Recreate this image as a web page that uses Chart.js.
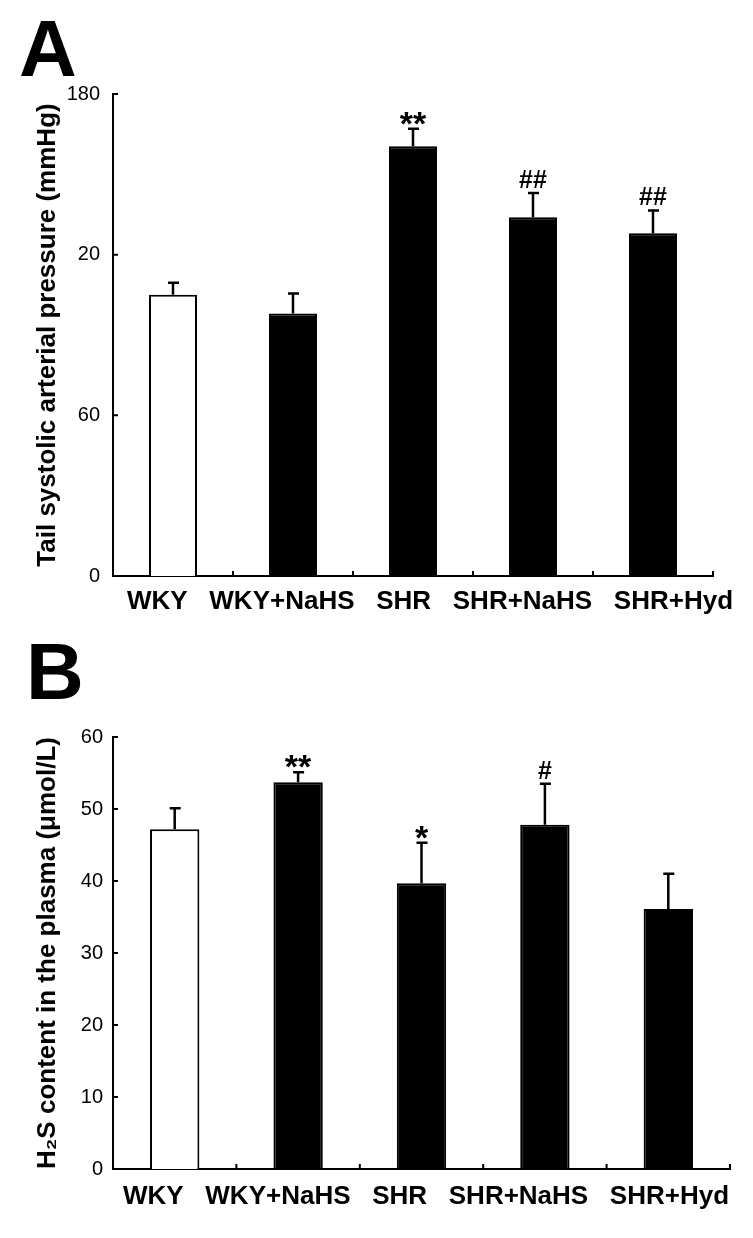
<!DOCTYPE html>
<html lang="en">
<head>
  <meta charset="UTF-8" />
  <title>Blood pressure and plasma H2S</title>
  <script src="https://cdn.jsdelivr.net/npm/chart.js"></script>
  <style>
    body {
      margin: 0;
      background: #fff;
      width: 753px;
      height: 1238px;
      position: relative;
      overflow: hidden;
      font-family: "Liberation Sans", Arial, sans-serif;
    }
    .panel { position: absolute; font-weight: bold; font-size: 80px; line-height: 1; color: #000; }
    #boxA { position: absolute; left: 0; top: 0; }
    #boxB { position: absolute; left: 0; top: 640px; }
  </style>
</head>
<body>
  <div class="panel" style="left:19px; top:9px;">A</div>
  <div class="panel" style="left:26px; top:632px;">B</div>
  <div id="boxA"><canvas id="chartA" width="753" height="640"></canvas></div>
  <div id="boxB"><canvas id="chartB" width="753" height="598"></canvas></div>

  <script>
    const groups = ['WKY', 'WKY+NaHS', 'SHR', 'SHR+NaHS', 'SHR+Hyd'];

    // panel A: tail systolic arterial pressure (mmHg)
    const pressureMean = [105, 98, 160.5, 134, 128];
    const pressureErr = [4.5, 7.5, 6.5, 9, 8.5];
    const pressureMarks = ['', '', '**', '##', '##'];
    const pressureTicks = ['0', '60', '20', '180'];   // labels as printed on the figure

    // panel B: H2S content in the plasma (umol/L)
    const h2sMean = [47.2, 53.7, 39.7, 47.8, 36.1];
    const h2sErr = [2.9, 1.4, 5.6, 5.7, 4.9];
    const h2sMarks = ['', '**', '*', '#', ''];

    const FONT = '"Liberation Sans", Arial, sans-serif';
    const barColors = ['#fff', '#000', '#000', '#000', '#000'];

    // error bars, significance marks, inward axis ticks and the group label line
    const whiskers = {
      id: 'whiskers',
      afterDatasetsDraw(chart, args, opts) {
        const ctx = chart.ctx;
        const x = chart.scales.x, y = chart.scales.y;
        const means = chart.data.datasets[0].data;
        ctx.save();
        ctx.strokeStyle = '#000';
        ctx.fillStyle = '#000';
        ctx.lineWidth = 2.5;
        means.forEach((m, i) => {
          const px = x.getPixelForValue(i);
          const base = y.getPixelForValue(m);
          const top = y.getPixelForValue(m + opts.err[i]);
          ctx.beginPath();
          ctx.moveTo(px, base);
          ctx.lineTo(px, top);
          ctx.moveTo(px - 5, top);
          ctx.lineTo(px + 6, top);
          ctx.stroke();
          const mark = opts.marks[i];
          if (mark) {
            const star = mark[0] === '*';
            ctx.font = star ? 'bold 34px ' + FONT : 'bold 25px ' + FONT;
            ctx.textAlign = 'center';
            ctx.textBaseline = 'alphabetic';
            ctx.fillText(mark, px, top - 14 + (star ? 20 : 9));
          }
        });

        ctx.lineWidth = 2;
        ctx.beginPath();
        y.ticks.forEach(t => {
          const py = y.getPixelForValue(t.value);
          ctx.moveTo(x.left, py);
          ctx.lineTo(x.left + 5, py);
        });
        const n = means.length;
        for (let i = 0; i < n; i++) {
          const bx = i < n - 1 ? (x.getPixelForValue(i) + x.getPixelForValue(i + 1)) / 2 : x.right;
          ctx.moveTo(bx, x.top);
          ctx.lineTo(bx, x.top - 5);
        }
        ctx.stroke();

        // group names are set as one line of text under the axis, like the figure
        ctx.font = 'bold 26px ' + FONT;
        ctx.textAlign = 'left';
        ctx.textBaseline = 'middle';
        const gap = ctx.measureText('   ').width;
        let lx = x.left + opts.labelInset;
        chart.data.labels.forEach(lab => {
          ctx.fillText(lab, lx, x.top + opts.labelDrop);
          lx += ctx.measureText(lab).width + gap;
        });
        ctx.restore();
      }
    };

    function makeChart(id, means, cfg) {
      return new Chart(document.getElementById(id), {
        type: 'bar',
        data: {
          labels: groups,
          datasets: [{
            data: means,
            backgroundColor: barColors,
            borderColor: '#000',
            borderWidth: 2,
            categoryPercentage: 1,
            barPercentage: 0.4
          }]
        },
        options: {
          responsive: false,
          animation: false,
          layout: { padding: cfg.padding },
          plugins: {
            legend: { display: false },
            tooltip: { enabled: false },
            whiskers: { err: cfg.err, marks: cfg.marks, labelInset: cfg.labelInset, labelDrop: cfg.labelDrop }
          },
          scales: {
            x: {
              grid: { display: false, drawTicks: false },
              border: { display: true, color: '#000', width: 2 },
              ticks: { display: false },
              afterFit: s => { s.height = cfg.xHeight; }
            },
            y: {
              min: 0,
              max: cfg.max,
              grid: { display: false, drawTicks: false },
              border: { display: true, color: '#000', width: 2 },
              ticks: {
                stepSize: cfg.step,
                color: '#000',
                padding: cfg.yPad,
                font: { family: FONT, size: 20 },
                callback: cfg.tickText
              },
              title: {
                display: true,
                text: cfg.title,
                color: '#000',
                padding: { top: 32, bottom: 0 },
                font: { family: FONT, size: 26, weight: 'bold' }
              },
              afterFit: s => { s.width = 113; }
            }
          }
        },
        plugins: [whiskers]
      });
    }

    makeChart('chartA', pressureMean, {
      padding: { top: 94, right: 40, left: 0, bottom: 0 },
      xHeight: 64,
      labelInset: 14,
      labelDrop: 26,
      yPad: 13,
      max: 180,
      step: 60,
      err: pressureErr,
      marks: pressureMarks,
      title: 'Tail systolic arterial pressure (mmHg)',
      tickText: (v, i) => pressureTicks[i]
    });

    makeChart('chartB', h2sMean, {
      padding: { top: 97, right: 23, left: 0, bottom: 0 },
      xHeight: 69,
      labelInset: 10,
      labelDrop: 28,
      yPad: 10,
      max: 60,
      step: 10,
      err: h2sErr,
      marks: h2sMarks,
      title: 'H\u2082S content in the plasma (\u03bcmol/L)',
      tickText: v => v
    });
  </script>
</body>
</html>
